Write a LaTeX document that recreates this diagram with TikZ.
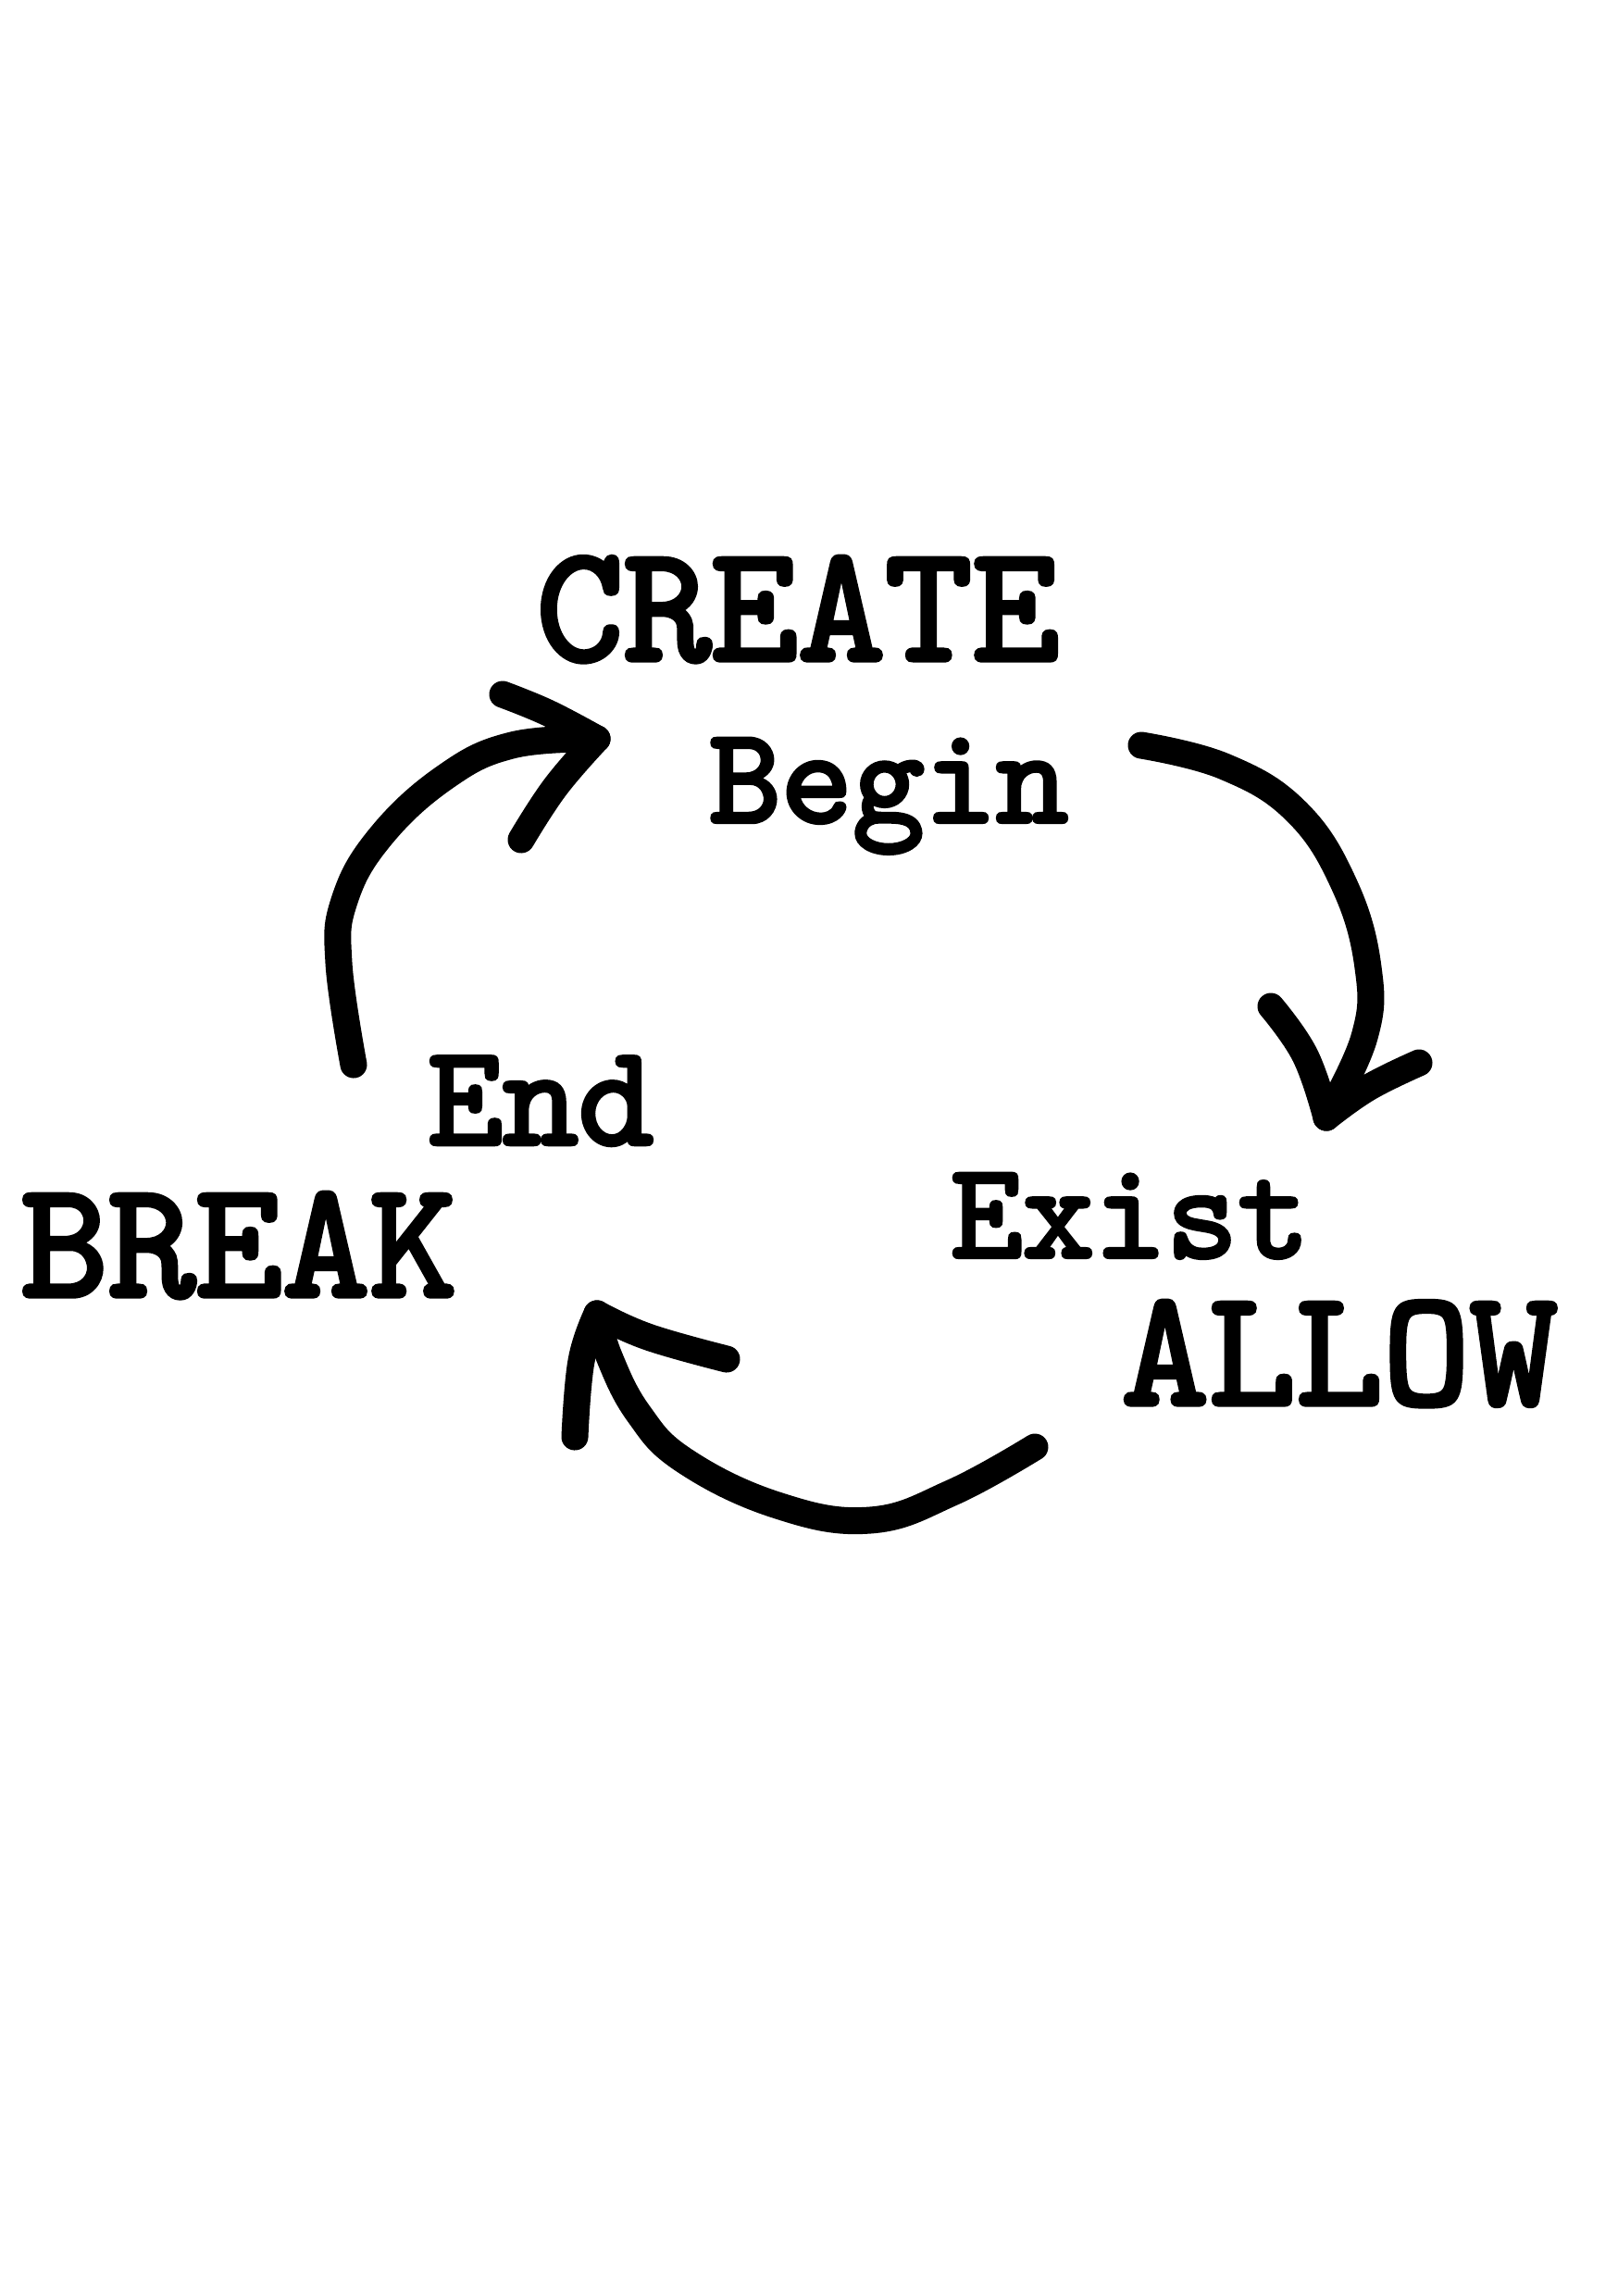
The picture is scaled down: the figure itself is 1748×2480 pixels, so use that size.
\documentclass[tikz,border=0pt]{standalone}
\usepackage{fontspec}
\newfontfamily\twfont{lmmono10-regular.otf}[FakeBold=3]
\begin{document}
\begin{tikzpicture}[x=0.01cm,y=-0.01cm,
  stroke/.style={line width=0.29cm, line cap=round, line join=round},
  bigword/.style={anchor=base, inner sep=0pt, font=\twfont\fontsize{51}{60}\selectfont},
  smallword/.style={anchor=base, inner sep=0pt, font=\twfont\fontsize{42}{50}\selectfont},
  endword/.style={anchor=base, inner sep=0pt, font=\twfont\fontsize{44}{52}\selectfont}]
\useasboundingbox (0,0) rectangle (1748,2480);
\fill[white] (0,0) rectangle (1748,2480);
% labels
\node[bigword] (create) at (862,713) {CREATE};
\node[smallword] (begin) at (960,888) {Begin};
\node[smallword] (exist) at (1221,1358) {Exist};
\node[bigword] (allow) at (1447,1517) {ALLOW};
\node[endword] (end) at (584,1236) {End};
\node[bigword] (break) at (258,1400) {BREAK};
% arrow 1: Begin -> Exist
\coordinate (a1s) at (1233,805);
\coordinate (a1t) at (1433,1207);
\coordinate (a1l) at (1373,1087);
\coordinate (a1r) at (1533,1148);
\draw[stroke] plot[smooth, tension=0.7] coordinates {(a1s) (1323,828) (1400,876) (1452,955) (1478,1045) (1474,1120) (a1t)};
\draw[stroke] plot[smooth, tension=0.7] coordinates {(a1l) (1410,1140) (a1t)};
\draw[stroke] plot[smooth, tension=0.7] coordinates {(a1t) (1478,1175) (a1r)};
% arrow 2: Allow -> Break
\coordinate (a2s) at (1118,1563);
\coordinate (a2t) at (645,1419);
\coordinate (a2l) at (621,1552);
\coordinate (a2r) at (785,1468);
\draw[stroke] plot[smooth, tension=0.7] coordinates {(a2s) (1029,1612) (940,1642) (840,1626) (740,1578) (690,1527) (658,1465) (a2t)};
\draw[stroke] plot[smooth, tension=0.7] coordinates {(a2t) (628,1470) (a2l)};
\draw[stroke] plot[smooth, tension=0.7] coordinates {(a2t) (700,1444) (a2r)};
% arrow 3: End -> Create
\coordinate (a3s) at (382,1150);
\coordinate (a3t) at (645,798);
\coordinate (a3u) at (543,750);
\coordinate (a3d) at (563,907);
\draw[stroke] plot[smooth, tension=0.7] coordinates {(a3s) (366,1040) (372,973) (410,905) (480,840) (553,805) (a3t)};
\draw[stroke] plot[smooth, tension=0.7] coordinates {(a3u) (592,770) (a3t)};
\draw[stroke] plot[smooth, tension=0.7] coordinates {(a3t) (600,850) (a3d)};
\end{tikzpicture}
\end{document}
